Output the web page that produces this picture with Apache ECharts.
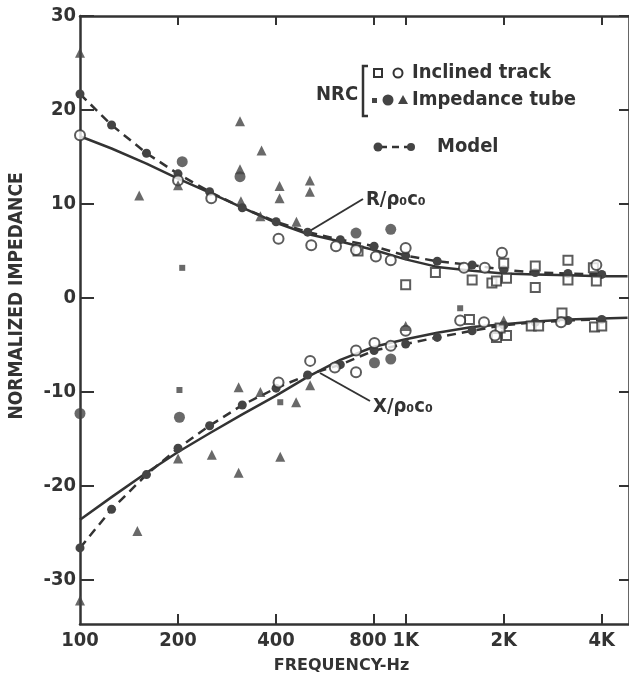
<!DOCTYPE html>
<html>
<head>
<meta charset="utf-8">
<script src="https://cdn.jsdelivr.net/npm/echarts@6/dist/echarts.min.js"></script>
<style>
  html, body { margin: 0; padding: 0; background: #fff; }
  #chart { width: 629px; height: 679px; }
</style>
</head>
<body>
<div id="chart"></div>
<script>
// 频率（1/3 倍频程）
var freqModel = [100, 125, 160, 200, 250, 315, 400, 500, 630, 800, 1000, 1250, 1600, 2000, 2500, 3150, 4000];
var rModel = [21.7, 18.4, 15.4, 13.2, 11.3, 9.6, 8.1, 7.0, 6.2, 5.5, 4.5, 3.9, 3.5, 3.0, 2.7, 2.6, 2.5];
var xModel = [-26.6, -22.5, -18.8, -16.0, -13.6, -11.4, -9.6, -8.2, -7.1, -5.6, -4.9, -4.2, -3.5, -2.9, -2.6, -2.4, -2.3];

var freqTheory = [100, 125, 160, 200, 250, 315, 400, 500, 630, 800, 1000, 1250, 1600, 2000, 2500, 3150, 4000, 4800];
var rTheory = [17.2, 15.9, 14.3, 12.7, 11.2, 9.6, 8.0, 6.8, 6.0, 5.1, 4.1, 3.3, 2.9, 2.6, 2.5, 2.4, 2.3, 2.3];
var xTheory = [-23.6, -21.2, -18.6, -16.4, -14.4, -12.4, -10.4, -8.4, -6.6, -5.2, -4.4, -3.7, -3.1, -2.8, -2.5, -2.3, -2.2, -2.1];

// NRC 斜轨道（空心方块 / 空心圆）
var trackSquares = [
  [714, 5.0], [1000, 1.4], [1234, 2.7], [1600, 1.9], [1840, 1.6], [2000, 3.7], [1900, 1.8], [2040, 2.1],
  [2500, 3.4], [2500, 1.1], [3150, 4.0], [3150, 1.9], [3770, 3.2], [3850, 1.8],
  [1570, -2.3], [1900, -4.2], [2040, -4.0], [1950, -3.2], [2430, -3.0], [2560, -3.0], [3020, -1.6],
  [3800, -3.1], [4000, -3.0]
];
var trackCircles = [
  [100, 17.3], [200, 12.5], [253, 10.6], [407, 6.3], [513, 5.6], [611, 5.5], [704, 5.1], [810, 4.4],
  [900, 4.0], [1000, 5.3], [1510, 3.2], [1750, 3.2], [1975, 4.8], [3850, 3.5],
  [407, -9.0], [509, -6.7], [606, -7.4], [704, -5.6], [704, -7.9], [802, -4.8], [900, -5.1],
  [1000, -3.5], [1470, -2.4], [1740, -2.6], [1880, -4.0], [3000, -2.6]
];
// NRC 阻抗管（实心小方块 / 实心圆 / 三角）
var tubeSquares = [[206, 3.2], [202, -9.8], [412, -11.1], [1470, -1.1]];
var tubeCircles = [[206, 14.5], [310, 12.9], [704, 6.9], [900, 7.3], [100, -12.3], [202, -12.7], [802, -6.9], [900, -6.5]];
var tubeTriangles = [
  [100, 26.1], [152, 10.9], [310, 18.8], [361, 15.7], [310, 13.7], [410, 11.9], [410, 10.6],
  [508, 12.5], [508, 11.3], [200, 12.0], [312, 10.3], [358, 8.7], [462, 8.1],
  [100, -32.2], [150, -24.8], [200, -17.1], [254, -16.7], [307, -9.5], [307, -18.6], [358, -10.0],
  [412, -16.9], [461, -11.1], [509, -9.3], [1000, -3.0], [2000, -2.4]
];

// 刻度
var freqLabels = [100, 200, 400, 800, 1000, 2000, 4000];
var freqTicks = [200, 400, 800, 1000, 2000, 4000];
var yTicks = [-30, -20, -10, 0, 10, 20, 30];

var ink = '#333333';
var fontFam = '"DejaVu Sans Condensed", "DejaVu Sans", sans-serif';

function pairs (xs, ys) {
  return xs.map(function (x, i) { return [x, ys[i]]; });
}

var chart = echarts.init(document.getElementById('chart'));

var tickFont = { color: ink, fontFamily: fontFam, fontWeight: 'bold', fontSize: 20 };

var option = {
  backgroundColor: '#ffffff',
  animation: false,
  grid: { left: 80, top: 16, right: -3, bottom: 51 },
  xAxis: [{
    type: 'log',
    logBase: 10,
    min: 100,
    max: 4850,
    position: 'bottom',
    axisLine: { onZero: false, lineStyle: { color: ink, width: 2.5 } },
    axisTick: { inside: true, length: 10, customValues: freqTicks, lineStyle: { color: ink, width: 2 } },
    axisLabel: Object.assign({
      customValues: freqLabels,
      margin: 7,
      formatter: function (v) {
        if (v === 800) return '{l|800}';
        return v >= 1000 ? (v / 1000) + 'K' : String(v);
      },
      rich: { l: Object.assign({ padding: [0, 12, 0, 0] }, tickFont) }
    }, tickFont),
    splitLine: { show: false },
    name: 'FREQUENCY-Hz',
    nameLocation: 'middle',
    nameGap: 34,
    nameTextStyle: { color: ink, fontFamily: '"DejaVu Sans", sans-serif', fontWeight: 'bold', fontSize: 16, padding: [0, 26, 0, 0] }
  }, {
    type: 'log',
    logBase: 10,
    min: 100,
    max: 4850,
    position: 'top',
    axisLine: { onZero: false, lineStyle: { color: ink, width: 2.5 } },
    axisTick: { inside: true, length: 9, customValues: freqTicks, lineStyle: { color: ink, width: 2 } },
    axisLabel: { show: false },
    splitLine: { show: false }
  }],
  yAxis: [{
    type: 'value',
    min: -34.7,
    max: 30,
    position: 'left',
    axisLine: { show: true, onZero: false, lineStyle: { color: ink, width: 2.5 } },
    axisTick: { show: true, inside: true, length: 14, customValues: yTicks, lineStyle: { color: ink, width: 2 } },
    axisLabel: Object.assign({ customValues: yTicks, margin: 4 }, tickFont),
    splitLine: { show: false }
  }, {
    type: 'value',
    min: -34.7,
    max: 30,
    position: 'right',
    axisLine: { show: true, onZero: false, lineStyle: { color: ink, width: 2.5 } },
    axisTick: { show: true, inside: true, length: 10, customValues: yTicks, lineStyle: { color: ink, width: 2 } },
    axisLabel: { show: false },
    splitLine: { show: false }
  }],
  series: [
    {
      name: 'R theory', type: 'line', data: pairs(freqTheory, rTheory), showSymbol: false,
      lineStyle: { color: ink, width: 2.5 }, z: 2
    },
    {
      name: 'X theory', type: 'line', data: pairs(freqTheory, xTheory), showSymbol: false,
      lineStyle: { color: ink, width: 2.5 }, z: 2
    },
    {
      name: 'R model', type: 'line', data: pairs(freqModel, rModel), symbol: 'circle', symbolSize: 9,
      lineStyle: { color: ink, width: 2.5, type: [9, 6] }, itemStyle: { color: '#444' }, z: 3
    },
    {
      name: 'X model', type: 'line', data: pairs(freqModel, xModel), symbol: 'circle', symbolSize: 9,
      lineStyle: { color: ink, width: 2.5, type: [9, 6] }, itemStyle: { color: '#444' }, z: 3
    },
    {
      name: 'Inclined track □', type: 'scatter', data: trackSquares, symbol: 'rect', symbolSize: 9,
      itemStyle: { color: '#fff', borderColor: ink, borderWidth: 2 }, z: 4
    },
    {
      name: 'Inclined track ○', type: 'scatter', data: trackCircles, symbol: 'circle', symbolSize: 10,
      itemStyle: { color: '#fff', borderColor: ink, borderWidth: 2 }, z: 4
    },
    {
      name: 'Impedance tube ▪', type: 'scatter', data: tubeSquares, symbol: 'rect', symbolSize: 6,
      itemStyle: { color: '#444' }, z: 4
    },
    {
      name: 'Impedance tube ●', type: 'scatter', data: tubeCircles, symbol: 'circle', symbolSize: 11,
      itemStyle: { color: '#444' }, z: 4
    },
    {
      name: 'Impedance tube ▲', type: 'scatter', data: tubeTriangles, symbol: 'triangle', symbolSize: 10,
      itemStyle: { color: '#444' }, z: 4
    }
  ],
  graphic: [
    // 纵轴标题
    {
      type: 'text', x: 17, y: 296, rotation: Math.PI / 2,
      style: {
        text: 'NORMALIZED IMPEDANCE', fill: ink, font: 'bold 19px ' + fontFam,
        textAlign: 'center', textVerticalAlign: 'middle'
      }
    },
    // 图例
    { type: 'text', x: 316, y: 95, style: { text: 'NRC', fill: ink, font: 'bold 20px ' + fontFam, textVerticalAlign: 'middle' } },
    { type: 'polyline', shape: { points: [[368, 66], [363, 66], [363, 116], [368, 116]] }, style: { stroke: ink, lineWidth: 2.5, fill: null } },
    { type: 'rect', shape: { x: 374, y: 69, width: 8, height: 8 }, style: { fill: '#fff', stroke: ink, lineWidth: 2 } },
    { type: 'circle', shape: { cx: 398, cy: 73, r: 4.5 }, style: { fill: '#fff', stroke: ink, lineWidth: 2 } },
    { type: 'text', x: 412, y: 73, style: { text: 'Inclined track', fill: ink, font: 'bold 20px ' + fontFam, textVerticalAlign: 'middle' } },
    { type: 'rect', shape: { x: 372, y: 98, width: 5, height: 5 }, style: { fill: '#444' } },
    { type: 'circle', shape: { cx: 388, cy: 100, r: 5.5 }, style: { fill: '#444' } },
    { type: 'polygon', shape: { points: [[403, 95], [408, 104], [398, 104]] }, style: { fill: '#444' } },
    { type: 'text', x: 412, y: 100, style: { text: 'Impedance tube', fill: ink, font: 'bold 20px ' + fontFam, textVerticalAlign: 'middle' } },
    { type: 'line', shape: { x1: 380, y1: 147, x2: 410, y2: 147 }, style: { stroke: ink, lineWidth: 2.5, lineDash: [7, 5] } },
    { type: 'circle', shape: { cx: 378, cy: 147, r: 4.5 }, style: { fill: '#444' } },
    { type: 'circle', shape: { cx: 411, cy: 147, r: 4 }, style: { fill: '#444' } },
    { type: 'text', x: 437, y: 147, style: { text: 'Model', fill: ink, font: 'bold 20px ' + fontFam, textVerticalAlign: 'middle' } },
    // 曲线标注
    { type: 'line', shape: { x1: 363, y1: 199, x2: 308, y2: 232 }, style: { stroke: ink, lineWidth: 2 } },
    { type: 'text', x: 366, y: 200, style: { text: 'R/ρ₀c₀', fill: ink, font: 'bold 20px ' + fontFam, textVerticalAlign: 'middle' } },
    { type: 'line', shape: { x1: 370, y1: 401, x2: 320, y2: 373 }, style: { stroke: ink, lineWidth: 2 } },
    { type: 'text', x: 373, y: 407, style: { text: 'X/ρ₀c₀', fill: ink, font: 'bold 20px ' + fontFam, textVerticalAlign: 'middle' } }
  ]
};
chart.setOption(option, true);
</script>
</body>
</html>
